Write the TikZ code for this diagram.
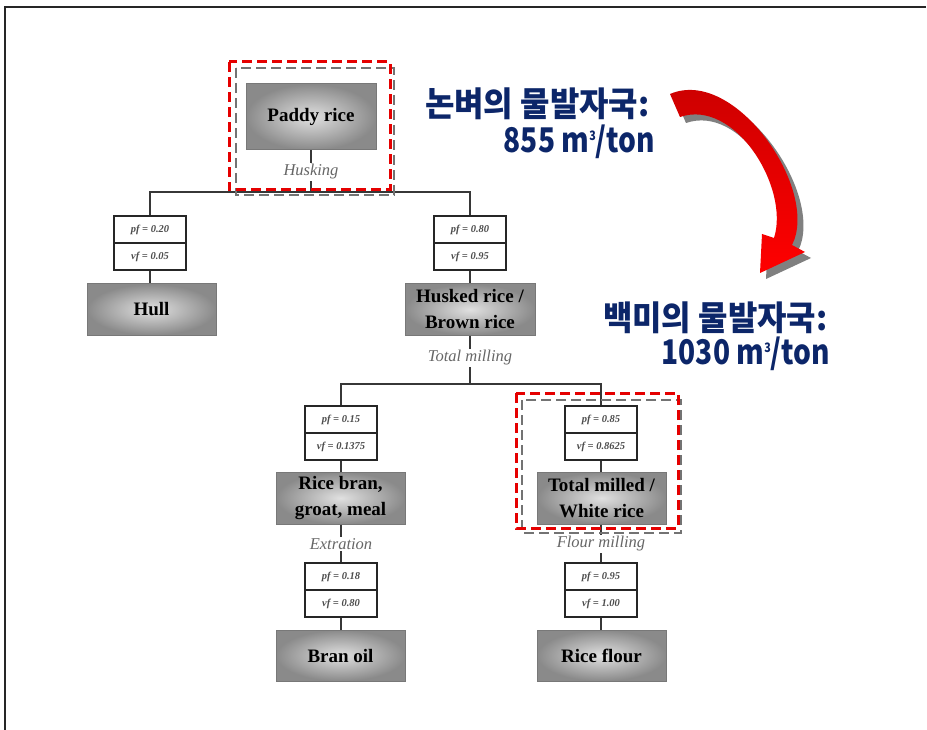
\documentclass[tikz,border=0pt]{standalone}
\usepackage{fontspec}
\setmainfont{Liberation Serif}
\newfontfamily\kfont{Noto Sans CJK KR}
\usetikzlibrary{calc}
\definecolor{navy}{RGB}{12,38,105}
\definecolor{linkgray}{RGB}{55,55,55}
\definecolor{procedge}{RGB}{120,120,120}
\definecolor{arrowdark}{RGB}{200,0,0}
\definecolor{arrowlight}{RGB}{255,0,0}
\newcommand{\cubed}{\raisebox{0.36em}{\fontsize{13}{13}\selectfont 3}}
\tikzset{
  procbox/.style={rectangle, draw=procedge, line width=1pt,
    inner color=black!12, outer color=black!46,
    font=\fontsize{19}{26}\selectfont\bfseries, align=center, text=black},
  pfbox/.style={rectangle, draw=black!85, line width=1.4pt, fill=white,
    minimum width=72, minimum height=27, inner sep=0pt,
    font=\fontsize{10.5}{12}\selectfont\bfseries\itshape, text=black!70},
  proclabel/.style={inner sep=1.5pt, text=black!60,
    font=\fontsize{16.5}{18}\selectfont\itshape},
  link/.style={draw=linkgray, line width=1.5pt},
  reddash/.style={draw=red!90!black, line width=3pt, dash pattern=on 10pt off 5pt},
  graydash/.style={draw=black!55, line width=2.5pt, dash pattern=on 10pt off 5pt},
  fptext/.style={text=navy, inner sep=0pt,
    font=\kfont\bfseries\fontsize{34}{36}\selectfont, xscale=0.94},
  fpvalue/.style={fptext, xscale=0.88}
}
\begin{document}
\begin{tikzpicture}[x=1pt, y=-1pt]
\useasboundingbox (0,0) rectangle (927,730);
% page frame (top and left edges)
\draw[line width=1.5pt, black!85] (926,7) -- (5,7) -- (5,730);

% ---- process tree ----
\node[procbox, minimum width=130, minimum height=66] (paddy) at (311,117) {Paddy rice};
\node[proclabel] (husking) at (311,172) {Husking};
\coordinate (j1) at (311,192);

\node[pfbox] (pfA) at (150,229.5) {pf = 0.20};
\node[pfbox] (vfA) at (150,256.5) {vf = 0.05};
\node[procbox, minimum width=129, minimum height=51] (hull) at (151.5,309.5) {Hull};

\node[pfbox] (pfB) at (470,229.5) {pf = 0.80};
\node[pfbox] (vfB) at (470,256.5) {vf = 0.95};
\node[procbox, minimum width=130, minimum height=51] (husked) at (470,309.5) {Husked rice /\\Brown rice};
\node[proclabel] (totmill) at (470,358) {Total milling};
\coordinate (j2) at (470,384);

\node[pfbox] (pfC) at (341,419.5) {pf = 0.15};
\node[pfbox] (vfC) at (341,446.5) {vf = 0.1375};
\node[procbox, minimum width=129, minimum height=52] (bran) at (340.5,498) {Rice bran,\\groat, meal};
\node[proclabel] (extr) at (341,544) {Extration};
\node[pfbox] (pfE) at (341,576.5) {pf = 0.18};
\node[pfbox] (vfE) at (341,603.5) {vf = 0.80};
\node[procbox, minimum width=129, minimum height=51] (oil) at (340.5,655.5) {Bran oil};

\node[pfbox] (pfD) at (601,419.5) {pf = 0.85};
\node[pfbox] (vfD) at (601,446.5) {vf = 0.8625};
\node[procbox, minimum width=129, minimum height=52] (white) at (601.5,498) {Total milled /\\White rice};
\node[proclabel] (flour) at (601,544) {Flour milling};
\node[pfbox] (pfF) at (601,576.5) {pf = 0.95};
\node[pfbox] (vfF) at (601,603.5) {vf = 1.00};
\node[procbox, minimum width=129, minimum height=51] (riceflour) at (601.5,655.5) {Rice flour};

% ---- connectors (kept vertical) ----
\draw[link] (paddy.south) -- (husking.north);
\draw[link] (husking.south) -- (j1);
\draw[link] (pfA.north) |- (j1) -| (pfB.north);
\draw[link] (vfA.south) -- (vfA.south |- hull.north);
\draw[link] (vfB.south) -- (vfB.south |- husked.north);
\draw[link] (husked.south) -- (totmill.north);
\draw[link] (totmill.south) -- (j2);
\draw[link] (pfC.north) |- (j2) -| (pfD.north);
\draw[link] (vfC.south) -- (vfC.south |- bran.north);
\draw[link] (bran.south -| extr.north) -- (extr.north);
\draw[link] (extr.south) -- (pfE.north);
\draw[link] (vfE.south) -- (vfE.south |- oil.north);
\draw[link] (vfD.south) -- (vfD.south |- white.north);
\draw[link] (white.south -| flour.north) -- (flour.north);
\draw[link] (flour.south) -- (pfF.north);
\draw[link] (vfF.south) -- (vfF.south |- riceflour.north);

% ---- highlight frames ----
\draw[graydash] (236,68) rectangle (394,195);
\draw[reddash] (229,62) rectangle (390,190);
\draw[graydash] (522,400) rectangle (681,533);
\draw[reddash] (516,393) rectangle (678,528);

% ---- water footprint annotations ----
\node[fptext, anchor=west] (wfPaddy) at (425,104) {논벼의 물발자국:};
\node[fpvalue, anchor=east] (wfPaddyVal) at (655,142) {855 m\cubed/ton};
\node[fptext, anchor=west] (wfWhite) at (603,318) {백미의 물발자국:};
\node[fpvalue, anchor=east] (wfWhiteVal) at (830,354) {1030 m\cubed/ton};

% ---- curved arrow with drop shadow ----
\fill[black!50, shift={(6,6)}]
  (670,94) .. controls (735,66) and (820,190) .. (792,245)
  -- (805,252) -- (760,273) -- (762,234) -- (774,238)
  .. controls (790,188) and (735,98) .. (680,117) -- cycle;
\shade[top color=arrowdark, bottom color=arrowlight]
  (670,94) .. controls (735,66) and (820,190) .. (792,245)
  -- (805,252) -- (760,273) -- (762,234) -- (774,238)
  .. controls (790,188) and (735,98) .. (680,117) -- cycle;
\end{tikzpicture}
\end{document}
